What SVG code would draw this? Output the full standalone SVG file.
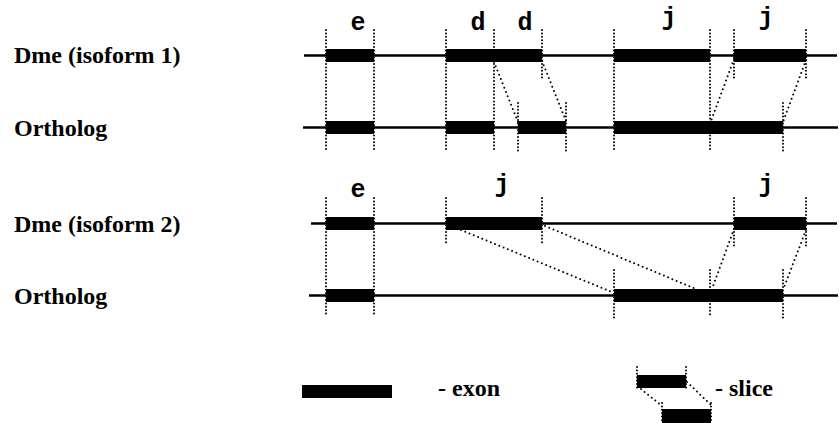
<svg xmlns="http://www.w3.org/2000/svg" width="839" height="423" viewBox="0 0 839 423">
<style>
.lbl{font-family:"Liberation Serif","Times New Roman",serif;font-weight:bold;font-size:24px;fill:#000}
.let{font-family:"Liberation Mono","Courier New",monospace;font-weight:bold;font-size:25px;fill:#000;text-anchor:middle}
.gene{stroke:#000;stroke-width:2.6;fill:none}
.exon{fill:#000}
.v{stroke:#000;stroke-width:2;stroke-linecap:round;stroke-dasharray:0 3.4;fill:none}
.d{stroke:#000;stroke-width:2;stroke-linecap:round;stroke-dasharray:0 4.6;fill:none}
</style>
<rect width="839" height="423" fill="#fff"/>
<g id="labels">
<text class="lbl" x="14" y="63">Dme (isoform 1)</text>
<text class="lbl" x="14" y="135.5">Ortholog</text>
<text class="lbl" x="14" y="231.5">Dme (isoform 2)</text>
<text class="lbl" x="14" y="303.5">Ortholog</text>
</g>
<g id="row1">
<line class="gene" x1="304" y1="55.5" x2="837" y2="55.5"/>
<rect class="exon" x="326" y="49" width="48" height="13"/>
<rect class="exon" x="446" y="49" width="96" height="13"/>
<rect class="exon" x="614" y="49" width="96" height="13"/>
<rect class="exon" x="734" y="49" width="72" height="13"/>
<text class="let" x="358" y="30">e</text>
<text class="let" x="478" y="30">d</text>
<text class="let" x="525" y="30">d</text>
<text class="let" x="669" y="25">j</text>
<text class="let" x="766" y="25">j</text>
</g>
<g id="row2">
<line class="gene" x1="303" y1="127.5" x2="838" y2="127.5"/>
<rect class="exon" x="326" y="121" width="48" height="13"/>
<rect class="exon" x="446" y="121" width="48" height="13"/>
<rect class="exon" x="518" y="121" width="48" height="13"/>
<rect class="exon" x="614" y="121" width="169" height="13"/>
</g>
<g id="row3">
<line class="gene" x1="311" y1="223.5" x2="837" y2="223.5"/>
<rect class="exon" x="326" y="217" width="48" height="13"/>
<rect class="exon" x="446" y="217" width="96" height="13"/>
<rect class="exon" x="734" y="217" width="72" height="13"/>
<text class="let" x="358" y="197">e</text>
<text class="let" x="502" y="192">j</text>
<text class="let" x="766" y="192">j</text>
</g>
<g id="row4">
<line class="gene" x1="309" y1="295.5" x2="838" y2="295.5"/>
<rect class="exon" x="326" y="289" width="48" height="13"/>
<rect class="exon" x="614" y="289" width="169" height="13"/>
</g>
<g id="connectors">
<line class="v" x1="326" y1="30" x2="326" y2="152"/>
<line class="v" x1="374" y1="30" x2="374" y2="152"/>
<line class="v" x1="446" y1="30" x2="446" y2="152"/>
<line class="v" x1="494" y1="30" x2="494" y2="152"/>
<line class="v" x1="542" y1="30" x2="542" y2="80"/>
<line class="v" x1="518" y1="103" x2="518" y2="152"/>
<line class="v" x1="566" y1="103" x2="566" y2="152"/>
<line class="v" x1="614" y1="30" x2="614" y2="152"/>
<line class="v" x1="710" y1="30" x2="710" y2="152"/>
<line class="v" x1="734" y1="30" x2="734" y2="80"/>
<line class="v" x1="806" y1="30" x2="806" y2="80"/>
<line class="v" x1="783" y1="103" x2="783" y2="152"/>
<line class="d" x1="494" y1="62" x2="518" y2="122"/>
<line class="d" x1="542" y1="61" x2="566" y2="121"/>
<line class="d" x1="734" y1="59" x2="711" y2="121"/>
<line class="d" x1="806" y1="60" x2="783" y2="122"/>
<line class="v" x1="326" y1="198" x2="326" y2="317"/>
<line class="v" x1="374" y1="198" x2="374" y2="317"/>
<line class="v" x1="446" y1="198" x2="446" y2="243"/>
<line class="v" x1="542" y1="198" x2="542" y2="243"/>
<line class="v" x1="734" y1="198" x2="734" y2="248"/>
<line class="v" x1="806" y1="198" x2="806" y2="248"/>
<line class="v" x1="614" y1="270" x2="614" y2="320"/>
<line class="v" x1="710" y1="270" x2="710" y2="315"/>
<line class="v" x1="783" y1="270" x2="783" y2="320"/>
<line class="d" x1="461" y1="230" x2="612" y2="292"/>
<line class="d" x1="545" y1="226" x2="696" y2="289"/>
<line class="d" x1="734" y1="229" x2="712" y2="289"/>
<line class="d" x1="806" y1="230" x2="783" y2="290"/>
</g>
<g id="legend">
<rect class="exon" x="302" y="385" width="90" height="13"/>
<text class="lbl" x="438" y="396">- exon</text>
<rect class="exon" x="637" y="375" width="49" height="13"/>
<rect class="exon" x="662" y="409" width="49" height="14"/>
<line class="v" x1="637" y1="367" x2="637" y2="389"/>
<line class="v" x1="686" y1="367" x2="686" y2="389"/>
<line class="v" x1="662" y1="403" x2="662" y2="423"/>
<line class="v" x1="711" y1="403" x2="711" y2="423"/>
<line class="d" x1="641" y1="389" x2="662" y2="406"/>
<line class="d" x1="687" y1="382" x2="711" y2="405"/>
<text class="lbl" x="715" y="396">- slice</text>
</g>
</svg>
